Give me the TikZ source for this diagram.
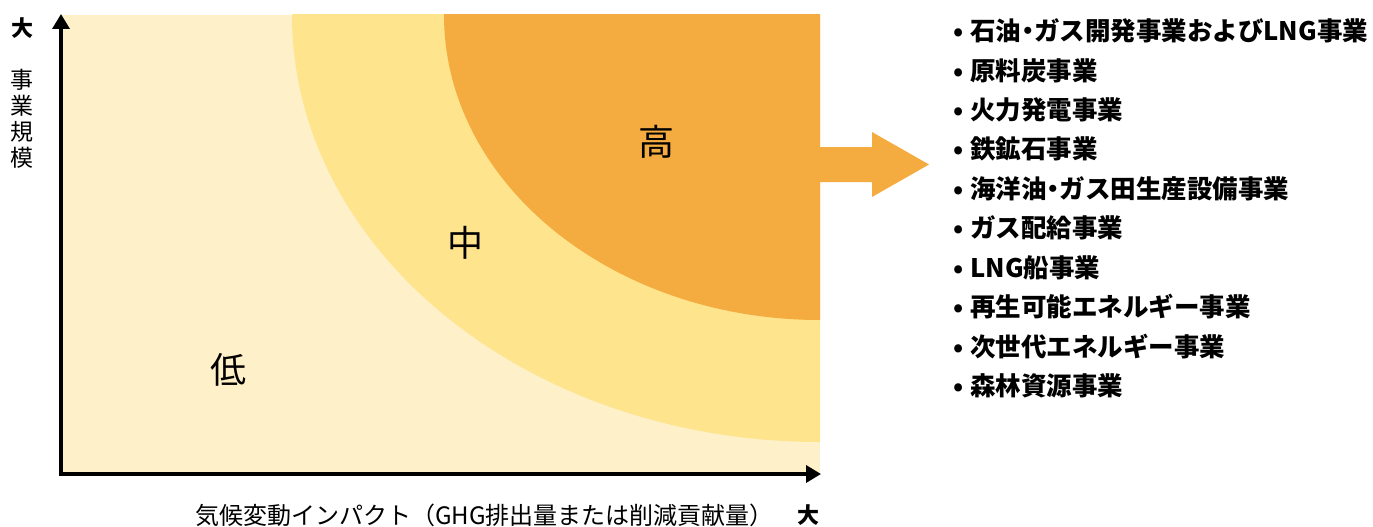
\documentclass[tikz,border=0pt]{standalone}
\usepackage{fontspec}
\setmainfont{Noto Sans CJK JP}
\usetikzlibrary{arrows.meta}
\definecolor{lowc}{HTML}{FEF0C8}
\definecolor{midc}{HTML}{FFE48E}
\definecolor{highc}{HTML}{F4AB3F}
\newcommand{\nakaguro}{\makebox[0.5em][c]{・}}
\tikzset{
  axisline/.style={line width=3.5pt, line join=miter, {Triangle[length=15pt,width=17pt]}-{Triangle[length=15pt,width=17pt]}},
  zonelabel/.style={inner sep=0pt, font=\fontsize{36}{40}\selectfont},
  axislabel/.style={inner sep=0pt, font=\fontsize{23}{26}\selectfont},
  xaxislabel/.style={inner sep=0pt, font=\fontsize{24}{28}\selectfont},
  axisend/.style={inner sep=0pt, font=\fontsize{22}{25}\selectfont\bfseries},
  listitem/.style={anchor=west, inner sep=0pt, font=\fontsize{25.5}{28}\selectfont\bfseries},
}
\begin{document}
\begin{tikzpicture}[x=1pt,y=-1pt]
\useasboundingbox (0,0) rectangle (1373,527);
\fill[lowc] (62,15) rectangle (820,474);
\begin{scope}
  \clip (62,15) rectangle (820,474);
  \fill[midc] (820,15) ellipse [x radius=528pt, y radius=427pt];
  \fill[highc] (820,15) ellipse [x radius=376pt, y radius=305pt];
\end{scope}
% big arrow
\fill[highc] (819,147) -- (872,147) -- (872,132) -- (929,164.5) -- (872,197) -- (872,182) -- (819,182) -- cycle;
% axes
\coordinate (ytop) at (61,14);
\coordinate (origin) at (61,474);
\coordinate (xend) at (821,474);
\draw[axisline] (ytop) -- (origin) -- (xend);
% zone labels
\node[zonelabel] (high) at (656,142) {高};
\node[zonelabel] (mid) at (465,243) {中};
\node[zonelabel] (low) at (228,370) {低};
% axis labels
\node[axisend] (ybig) at (22,28) {大};
\node[axislabel, align=center, text width=25pt] (ylab) at (22,119) {\baselineskip=26pt 事\\業\\規\\模};
\node[xaxislabel, anchor=west] (xlab) at (195,515) {気候変動インパクト（GHG排出量または削減貢献量）};
\node[axisend] (xbig) at (808,515) {大};
% list
\foreach \t [count=\i] in {石油\nakaguro ガス開発事業およびLNG事業, 原料炭事業, 火力発電事業, 鉄鉱石事業, 海洋油\nakaguro ガス田生産設備事業, ガス配給事業, LNG船事業, 再生可能エネルギー事業, 次世代エネルギー事業, 森林資源事業}
  \node[listitem] (item\i) at (953, {31+(\i-1)*39.4}) {•\hspace{7pt}\t};
\end{tikzpicture}
\end{document}
